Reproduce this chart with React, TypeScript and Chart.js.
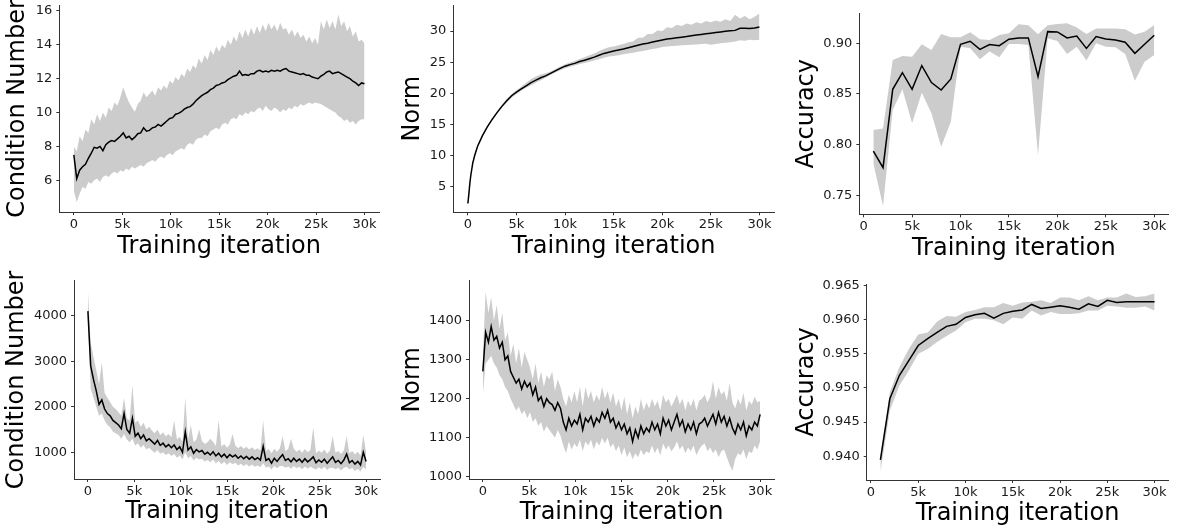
import React, { useEffect, useRef } from "react";
import { Chart, registerables } from "chart.js";

Chart.register(...registerables);
Chart.defaults.font.family = "'DejaVu Sans', sans-serif";

const PAGE_W = 1178;
const PAGE_H = 529;
const BAND = "#cccccc";
const AXIS = "#333333";
const TEXT = "#1a1a1a";
const TICK_SIZE = 13;
const X_TITLE = "Training iteration";
const X_TICKS = [0, 5000, 10000, 15000, 20000, 25000, 30000];

// ---- iteration grids (categories) ----
const STEP300_ITERS = Array.from({ length: 101 }, (_, i) => i * 300);
const ACC_ITERS = Array.from({ length: 30 }, (_, i) => (i + 1) * 1000);
const NORM1_ITERS = [0, 100, 200, 300, 500, 700, 1000, 1500, 2000, 2500, 3000, 3500, 4000, 4500, 5000, 5500, 6000, 6500, 7000, 7500, 8000, 8500, 9000, 9500, 10000, 10500, 11000, 11500, 12000, 12500, 13000, 13500, 14000, 14500, 15000, 15500, 16000, 16500, 17000, 17500, 18000, 18500, 19000, 19500, 20000, 20500, 21000, 21500, 22000, 22500, 23000, 23500, 24000, 24500, 25000, 25500, 26000, 26500, 27000, 27500, 28000, 28500, 29000, 29500, 30000];

// ---- Panel 1: condition number (top) ----
const CN1_TICKS = [6, 8, 10, 12, 14, 16];
const CN1_MEAN = [7.5, 6.1, 6.6, 6.8, 6.95, 7.3, 7.6, 7.95, 7.9, 8.0, 7.75, 8.1, 8.25, 8.35, 8.3, 8.45, 8.6, 8.8, 8.5, 8.6, 8.4, 8.55, 8.75, 8.8, 9.1, 8.9, 8.95, 9.1, 9.15, 9.3, 9.2, 9.35, 9.5, 9.65, 9.7, 9.9, 9.95, 10.05, 10.2, 10.3, 10.35, 10.5, 10.7, 10.85, 11.0, 11.1, 11.2, 11.35, 11.45, 11.6, 11.65, 11.75, 11.8, 11.95, 12.05, 12.15, 12.2, 12.45, 12.2, 12.25, 12.2, 12.3, 12.3, 12.45, 12.5, 12.4, 12.45, 12.4, 12.5, 12.45, 12.5, 12.45, 12.55, 12.6, 12.45, 12.4, 12.35, 12.3, 12.25, 12.3, 12.2, 12.2, 12.1, 12.05, 12.0, 12.15, 12.25, 12.4, 12.45, 12.3, 12.35, 12.4, 12.3, 12.2, 12.1, 12.0, 11.85, 11.75, 11.6, 11.75, 11.7];
const CN1_UPPER = [8.0, 7.7, 8.6, 8.3, 9.0, 8.8, 9.6, 9.3, 9.9, 9.5, 10.0, 9.7, 10.3, 10.1, 10.6, 10.4, 10.9, 11.5, 11.0, 10.6, 10.3, 10.05, 10.5, 10.7, 11.2, 10.9, 11.1, 11.3, 11.0, 11.5, 11.3, 11.6, 11.4, 11.9, 11.7, 12.1, 11.9, 12.3, 12.1, 12.6, 12.4, 12.8, 12.6, 13.2, 12.9, 13.4, 13.1, 13.7, 13.4, 13.9, 13.6, 14.0, 13.8, 14.3, 14.0, 14.5, 14.2, 14.8, 14.4, 14.9, 14.5, 15.0, 14.6, 15.1, 14.7, 15.2, 14.8, 15.3, 14.9, 15.2, 14.8, 15.3, 14.9, 15.0, 14.6, 14.9, 14.5, 14.8, 14.4, 14.6, 14.2, 14.5, 14.1, 14.4, 14.0, 15.4, 14.9, 15.5, 15.0, 15.4, 14.9, 15.8, 15.1, 15.4, 14.8, 15.1, 14.5, 14.8, 14.2, 14.3, 14.1];
const CN1_LOWER = [5.4, 4.7, 5.2, 5.6, 5.5, 5.9, 5.8, 6.0, 6.1, 5.9, 6.2, 6.3, 6.2, 6.4, 6.5, 6.4, 6.6, 6.5, 6.7, 6.6, 6.8, 6.7, 6.8, 6.9, 6.8, 7.0, 7.1, 7.2, 7.1, 7.3, 7.4, 7.3, 7.5, 7.6, 7.5, 7.7, 7.8, 7.9, 7.8, 8.1, 8.2, 8.1, 8.4, 8.5, 8.5, 8.7, 8.6, 8.9, 9.0, 9.1, 9.0, 9.3, 9.4, 9.3, 9.6, 9.7, 9.6, 9.9, 9.8, 10.0, 9.9, 10.1, 10.0, 10.2, 10.3, 10.1, 10.4, 10.2, 10.1, 10.3, 10.2, 10.0, 10.2, 10.1, 10.3, 10.2, 10.4, 10.3, 10.5, 10.4, 10.5, 10.6, 10.5, 10.6, 10.55, 10.5, 10.4, 10.3, 10.2, 10.1, 10.0, 9.8, 9.7, 9.5, 9.6, 9.4, 9.5, 9.3, 9.5, 9.6, 9.6];

// ---- Panel 2: norm (top) ----
const NORM1_TICKS = [5, 10, 15, 20, 25, 30];
const NORM1_MEAN = [2.3, 3.8, 5.5, 6.8, 8.8, 10.0, 11.5, 13.2, 14.6, 15.8, 16.9, 17.9, 18.8, 19.6, 20.2, 20.7, 21.2, 21.7, 22.1, 22.5, 22.8, 23.2, 23.6, 24.0, 24.35, 24.6, 24.8, 25.1, 25.3, 25.55, 25.8, 26.1, 26.4, 26.6, 26.8, 26.95, 27.1, 27.3, 27.5, 27.7, 27.9, 28.05, 28.25, 28.4, 28.55, 28.7, 28.8, 28.9, 29.0, 29.1, 29.25, 29.35, 29.45, 29.55, 29.65, 29.75, 29.85, 29.95, 30.05, 30.1, 30.45, 30.45, 30.4, 30.5, 30.65];
const NORM1_UPPER = [2.4, 4.0, 5.7, 7.0, 9.0, 10.2, 11.7, 13.4, 14.8, 16.0, 17.1, 18.15, 19.1, 19.9, 20.5, 21.1, 21.7, 22.3, 22.7, 23.0, 23.2, 23.5, 23.9, 24.3, 24.65, 24.95, 25.2, 25.5, 25.8, 26.1, 26.4, 26.8, 27.1, 27.4, 27.5, 27.7, 27.9, 28.2, 28.3, 28.9, 28.9, 29.5, 29.5, 30.1, 30.0, 30.6, 30.5, 31.0, 30.8, 31.2, 31.0, 31.4, 31.2, 31.6, 31.4, 31.7, 31.5, 31.9, 31.6, 32.6, 32.0, 32.4, 31.9, 32.3, 32.8];
const NORM1_LOWER = [2.2, 3.6, 5.3, 6.6, 8.6, 9.8, 11.3, 13.0, 14.4, 15.6, 16.7, 17.7, 18.5, 19.3, 19.9, 20.4, 20.9, 21.3, 21.7, 22.1, 22.5, 22.95, 23.35, 23.7, 24.0, 24.25, 24.45, 24.7, 24.85, 25.05, 25.25, 25.45, 25.7, 25.9, 26.0, 26.1, 26.25, 26.4, 26.5, 26.65, 26.8, 26.95, 27.1, 27.25, 27.45, 27.5, 27.6, 27.65, 27.7, 27.75, 27.8, 27.85, 27.9, 27.95, 27.8, 27.9, 28.05, 28.1, 28.2, 28.3, 28.5, 28.45, 28.6, 28.5, 28.6];

// ---- Panel 3: accuracy (top) ----
const ACC1_TICKS = [0.75, 0.8, 0.85, 0.9];
const ACC1_MEAN = [0.7937, 0.7773, 0.8546, 0.871, 0.8546, 0.878, 0.8612, 0.8539, 0.8648, 0.899, 0.902, 0.894, 0.8987, 0.8977, 0.904, 0.9053, 0.9053, 0.867, 0.9115, 0.9112, 0.9053, 0.9072, 0.895, 0.9066, 0.9043, 0.9033, 0.901, 0.8901, 0.899, 0.9079];
const ACC1_UPPER = [0.8144, 0.8158, 0.8835, 0.8875, 0.8868, 0.899, 0.8934, 0.9092, 0.9059, 0.9059, 0.9109, 0.904, 0.9033, 0.9082, 0.9099, 0.9188, 0.9178, 0.9089, 0.9178, 0.9191, 0.9197, 0.9155, 0.9092, 0.9145, 0.9145, 0.9145, 0.9138, 0.9086, 0.9115, 0.9181];
const ACC1_LOWER = [0.7815, 0.7394, 0.8342, 0.8546, 0.821, 0.8513, 0.8309, 0.798, 0.8227, 0.8967, 0.895, 0.8842, 0.8918, 0.8862, 0.8993, 0.8993, 0.8984, 0.7898, 0.9049, 0.9023, 0.8895, 0.8967, 0.8829, 0.9, 0.8967, 0.896, 0.8895, 0.8631, 0.8819, 0.8885];

// ---- Panel 4: condition number (bottom) ----
const CN2_TICKS = [1000, 2000, 3000, 4000];
const CN2_MEAN = [4100, 2900, 2600, 2350, 2050, 2150, 1950, 1850, 1800, 1700, 1650, 1600, 1520, 1850, 1500, 1420, 1750, 1350, 1420, 1300, 1380, 1250, 1300, 1240, 1180, 1260, 1150, 1200, 1120, 1170, 1100, 1160, 1060, 1120, 1000, 1450, 1050, 1120, 980, 1060, 1010, 1040, 960, 1000, 940, 1010, 920, 980, 900, 960, 880, 950, 900, 940, 870, 920, 860, 910, 850, 900, 840, 880, 830, 1130, 820, 860, 760, 870, 800, 880, 950, 820, 860, 790, 870, 800, 850, 780, 860, 790, 840, 900, 770, 830, 780, 850, 760, 830, 900, 780, 820, 750, 830, 960, 770, 820, 740, 800, 720, 1000, 800];
const CN2_UPPER = [4550, 3400, 3100, 2800, 2500, 2980, 2300, 2200, 2100, 2000, 1950, 1880, 1800, 2200, 1750, 1700, 2480, 1650, 1700, 1560, 1650, 1500, 1560, 1480, 1420, 1500, 1380, 1440, 1350, 1400, 1330, 1700, 1280, 1340, 1230, 2200, 1280, 1600, 1220, 1280, 1500, 1250, 1180, 1220, 1300, 1230, 1140, 1700, 1120, 1180, 1100, 1170, 1400, 1150, 1090, 1140, 1080, 1120, 1060, 1110, 1050, 1090, 1040, 1700, 1030, 1070, 980, 1080, 1010, 1090, 1350, 1030, 1070, 1300, 1080, 1010, 1060, 990, 1070, 1000, 1050, 1550, 980, 1040, 990, 1060, 970, 1040, 1350, 990, 1030, 960, 1040, 1350, 980, 1030, 950, 1010, 930, 1380, 1000];
const CN2_LOWER = [3900, 2400, 2200, 2000, 1800, 1850, 1700, 1600, 1550, 1450, 1420, 1380, 1300, 1400, 1280, 1220, 1300, 1150, 1200, 1100, 1160, 1060, 1100, 1040, 990, 1050, 970, 1000, 940, 980, 920, 960, 880, 930, 840, 1000, 870, 920, 820, 880, 840, 860, 800, 830, 780, 840, 760, 810, 740, 790, 720, 780, 740, 770, 710, 750, 700, 740, 690, 730, 680, 710, 670, 760, 660, 690, 620, 700, 650, 700, 700, 660, 690, 640, 700, 650, 680, 630, 690, 640, 680, 650, 620, 670, 630, 680, 610, 660, 660, 630, 660, 600, 660, 680, 620, 660, 590, 640, 580, 680, 620];

// ---- Panel 5: norm (bottom) ----
const NORM2_TICKS = [1000, 1100, 1200, 1300, 1400];
const NORM2_MEAN = [1270, 1370, 1345, 1385, 1350, 1360, 1330, 1345, 1300, 1310, 1270, 1255, 1240, 1250, 1225, 1245, 1230, 1240, 1210, 1230, 1195, 1205, 1180, 1200, 1190, 1185, 1170, 1190, 1175, 1140, 1120, 1150, 1130, 1145, 1135, 1160, 1120, 1150, 1140, 1155, 1130, 1150, 1140, 1165, 1150, 1170, 1140, 1150, 1125, 1140, 1120, 1135, 1110, 1125, 1090, 1120, 1100, 1130, 1110, 1125, 1115, 1140, 1120, 1135, 1110, 1150, 1130, 1145, 1120, 1140, 1160, 1130, 1145, 1115, 1135, 1120, 1140, 1110, 1135, 1140, 1150, 1130, 1145, 1160, 1135, 1165, 1140, 1155, 1130, 1150, 1125, 1110, 1135, 1120, 1140, 1105, 1130, 1120, 1140, 1130, 1160];
const NORM2_UPPER = [1310, 1475, 1420, 1460, 1400, 1440, 1380, 1420, 1350, 1370, 1310, 1340, 1290, 1330, 1280, 1320, 1300, 1280, 1250, 1290, 1240, 1270, 1230, 1260, 1250, 1270, 1220, 1250, 1230, 1200, 1180, 1210, 1190, 1220, 1190, 1230, 1180, 1230, 1200, 1220, 1190, 1210, 1195, 1230, 1200, 1220, 1190, 1215, 1180, 1200, 1170, 1205, 1160, 1190, 1150, 1180, 1160, 1200, 1170, 1190, 1175, 1200, 1180, 1195, 1170, 1210, 1190, 1200, 1180, 1195, 1210, 1185, 1200, 1170, 1195, 1180, 1200, 1170, 1195, 1200, 1210, 1190, 1205, 1245, 1200, 1230, 1210, 1220, 1195, 1240, 1190, 1175, 1200, 1185, 1215, 1170, 1195, 1185, 1205, 1190, 1195];
const NORM2_LOWER = [1210, 1290, 1300, 1310, 1290, 1280, 1260, 1250, 1230, 1220, 1200, 1185, 1170, 1180, 1160, 1170, 1150, 1165, 1140, 1150, 1130, 1140, 1115, 1130, 1120, 1110, 1100, 1120, 1105, 1080, 1060, 1090, 1070, 1085, 1075, 1095, 1065, 1090, 1080, 1095, 1070, 1090, 1080, 1100, 1085, 1100, 1075, 1085, 1065, 1080, 1055, 1075, 1050, 1065, 1045, 1060, 1050, 1070, 1055, 1065, 1060, 1080, 1060, 1075, 1055, 1085, 1070, 1080, 1065, 1075, 1090, 1070, 1080, 1060, 1075, 1065, 1080, 1055, 1070, 1080, 1085, 1065, 1075, 1060, 1070, 1050, 1065, 1070, 1050, 1030, 1015, 1045, 1060, 1055, 1070, 1045, 1065, 1060, 1080, 1070, 1090];

// ---- Panel 6: accuracy (bottom) ----
const ACC2_TICKS = [0.94, 0.945, 0.95, 0.955, 0.96, 0.965];
const ACC2_MEAN = [0.93946, 0.9484, 0.9518, 0.954, 0.9562, 0.9572, 0.9581, 0.959, 0.9593, 0.9603, 0.9607, 0.9609, 0.9602, 0.9609, 0.9612, 0.9614, 0.9622, 0.9616, 0.9618, 0.962, 0.9618, 0.9615, 0.9623, 0.9619, 0.9628, 0.9625, 0.9626, 0.9626, 0.9626, 0.9626];
const ACC2_UPPER = [0.9401, 0.9494, 0.953, 0.9557, 0.9578, 0.9581, 0.9597, 0.9605, 0.9604, 0.9611, 0.9614, 0.9618, 0.9618, 0.9624, 0.962, 0.9625, 0.9626, 0.9628, 0.9624, 0.9632, 0.9632, 0.9628, 0.9634, 0.9628, 0.9632, 0.9632, 0.9638, 0.9633, 0.9634, 0.9638];
const ACC2_LOWER = [0.93766, 0.9467, 0.9503, 0.9525, 0.955, 0.9557, 0.9567, 0.9576, 0.9584, 0.9596, 0.9601, 0.9601, 0.9599, 0.9593, 0.9603, 0.9601, 0.9613, 0.9606, 0.9611, 0.9608, 0.9608, 0.9609, 0.9613, 0.9613, 0.962, 0.9619, 0.9617, 0.9617, 0.9619, 0.9613];

type Rect = { l: number; t: number; r: number; b: number };
type PanelSpec = {
  iters: number[];
  mean: number[];
  upper: number[];
  lower: number[];
  yTicks: number[];
  yDecimals: number;
  yTitle: string;
  xMin: number;
  xMax: number;
  yMin: number;
  yMax: number;
  rect: Rect;
  yTitleX: number;
  xTitleY: number;
};

const PANELS: PanelSpec[] = [
  { iters: STEP300_ITERS, mean: CN1_MEAN, upper: CN1_UPPER, lower: CN1_LOWER, yTicks: CN1_TICKS, yDecimals: 0, yTitle: "Condition Number",
    xMin: -1500, xMax: 31500, yMin: 4.128, yMax: 16.354, rect: { l: 59.3, t: 5, r: 379, b: 212 }, yTitleX: 17.5, xTitleY: 246.5 },
  { iters: NORM1_ITERS, mean: NORM1_MEAN, upper: NORM1_UPPER, lower: NORM1_LOWER, yTicks: NORM1_TICKS, yDecimals: 0, yTitle: "Norm",
    xMin: -1500, xMax: 31500, yMin: 0.889, yMax: 34.175, rect: { l: 453.3, t: 5, r: 774, b: 212.3 }, yTitleX: 412.4, xTitleY: 246.8 },
  { iters: ACC_ITERS, mean: ACC1_MEAN, upper: ACC1_UPPER, lower: ACC1_LOWER, yTicks: ACC1_TICKS, yDecimals: 2, yTitle: "Accuracy",
    xMin: -450, xMax: 31450, yMin: 0.73125, yMax: 0.9296, rect: { l: 859.3, t: 13.3, r: 1168.3, b: 214.3 }, yTitleX: 806.3, xTitleY: 249.2 },
  { iters: STEP300_ITERS, mean: CN2_MEAN, upper: CN2_UPPER, lower: CN2_LOWER, yTicks: CN2_TICKS, yDecimals: 0, yTitle: "Condition Number",
    xMin: -1500, xMax: 31500, yMin: 413.6, yMax: 4768.7, rect: { l: 74, t: 280.7, r: 380, b: 479 }, yTitleX: 17.2, xTitleY: 512.2 },
  { iters: STEP300_ITERS, mean: NORM2_MEAN, upper: NORM2_UPPER, lower: NORM2_LOWER, yTicks: NORM2_TICKS, yDecimals: 0, yTitle: "Norm",
    xMin: -1500, xMax: 31500, yMin: 994.1, yMax: 1502.6, rect: { l: 469, t: 280.7, r: 774, b: 479 }, yTitleX: 412.4, xTitleY: 513.2 },
  { iters: ACC_ITERS, mean: ACC2_MEAN, upper: ACC2_UPPER, lower: ACC2_LOWER, yTicks: ACC2_TICKS, yDecimals: 3, yTitle: "Accuracy",
    xMin: -450, xMax: 31450, yMin: 0.93653, yMax: 0.96519, rect: { l: 866.7, t: 284, r: 1168.3, b: 480 }, yTitleX: 806.5, xTitleY: 513.9 },
];

const yTitlePlugin = {
  id: "yTitle",
  afterDraw(chart: any, _args: any, opts: any) {
    const { ctx, chartArea } = chart;
    ctx.save();
    ctx.translate(opts.x, (chartArea.top + chartArea.bottom) / 2);
    ctx.rotate(-Math.PI / 2);
    ctx.font = "24px 'DejaVu Sans', sans-serif";
    ctx.fillStyle = "#000";
    ctx.textAlign = "center";
    ctx.textBaseline = "middle";
    ctx.fillText(opts.text, 0, 0);
    ctx.restore();
  },
};

const toPoints = (xs: number[], ys: number[]) => xs.map((x, i) => ({ x, y: ys[i] }));

function PanelChart({ spec }: { spec: PanelSpec }) {
  const ref = useRef<HTMLCanvasElement | null>(null);
  useEffect(() => {
    if (!ref.current) return;
    const { rect } = spec;
    const titleHalf = 14.4;
    const scaleBottom = spec.xTitleY + titleHalf;
    const chart = new Chart(ref.current, {
      type: "line",
      data: {
        datasets: [
          { data: toPoints(spec.iters, spec.mean), borderColor: "#000", borderWidth: 1.5, fill: false, pointRadius: 0, tension: 0, order: 0 },
          { data: toPoints(spec.iters, spec.upper), borderColor: "rgba(0,0,0,0)", borderWidth: 0, backgroundColor: BAND, fill: "+1", pointRadius: 0, order: 1 },
          { data: toPoints(spec.iters, spec.lower), borderColor: "rgba(0,0,0,0)", borderWidth: 0, backgroundColor: BAND, fill: false, pointRadius: 0, order: 2 },
        ],
      } as any,
      options: {
        animation: false,
        responsive: false,
        events: [],
        layout: { padding: { left: 0, top: rect.t, right: PAGE_W - rect.r, bottom: PAGE_H - scaleBottom } },
        plugins: {
          legend: { display: false },
          tooltip: { enabled: false },
          yTitle: { text: spec.yTitle, x: spec.yTitleX },
        } as any,
        scales: {
          x: {
            type: "linear",
            min: spec.xMin,
            max: spec.xMax,
            grid: { display: true, drawOnChartArea: false, drawTicks: true, tickLength: 3, color: AXIS, lineWidth: 1 },
            border: { display: true, color: AXIS, width: 1 },
            ticks: {
              padding: 2,
              color: TEXT,
              font: { size: TICK_SIZE },
              maxRotation: 0,
              autoSkip: false,
              callback: (v: any) => (Number(v) === 0 ? "0" : `${Number(v) / 1000}k`),
            },
            title: { display: true, text: X_TITLE, color: "#000", font: { size: 24 }, padding: 0 },
            afterBuildTicks: (s: any) => {
              s.ticks = X_TICKS.map((value) => ({ value }));
            },
            afterFit: (s: any) => {
              s.height = scaleBottom - rect.b;
              s.paddingLeft = 0;
              s.paddingRight = 0;
            },
          },
          y: {
            type: "linear",
            min: spec.yMin,
            max: spec.yMax,
            grid: { display: true, drawOnChartArea: false, drawTicks: true, tickLength: 3, color: AXIS, lineWidth: 1 },
            border: { display: true, color: AXIS, width: 1 },
            ticks: {
              padding: 4,
              color: TEXT,
              font: { size: TICK_SIZE },
              autoSkip: false,
              callback: (v: any) => Number(v).toFixed(spec.yDecimals),
            },
            afterBuildTicks: (s: any) => {
              s.ticks = spec.yTicks.map((value) => ({ value }));
            },
            afterFit: (s: any) => {
              s.width = rect.l;
              s.paddingTop = 0;
              s.paddingBottom = 0;
            },
          },
        },
      } as any,
      plugins: [yTitlePlugin as any],
    });
    return () => chart.destroy();
  }, [spec]);
  return <canvas ref={ref} width={PAGE_W} height={PAGE_H} style={{ position: "absolute", left: 0, top: 0 }} />;
}

export default function App() {
  return (
    <div style={{ position: "fixed", left: 0, top: 0, width: PAGE_W, height: PAGE_H, background: "#fff", overflow: "hidden" }}>
      {PANELS.map((p, i) => (
        <PanelChart key={i} spec={p} />
      ))}
    </div>
  );
}
